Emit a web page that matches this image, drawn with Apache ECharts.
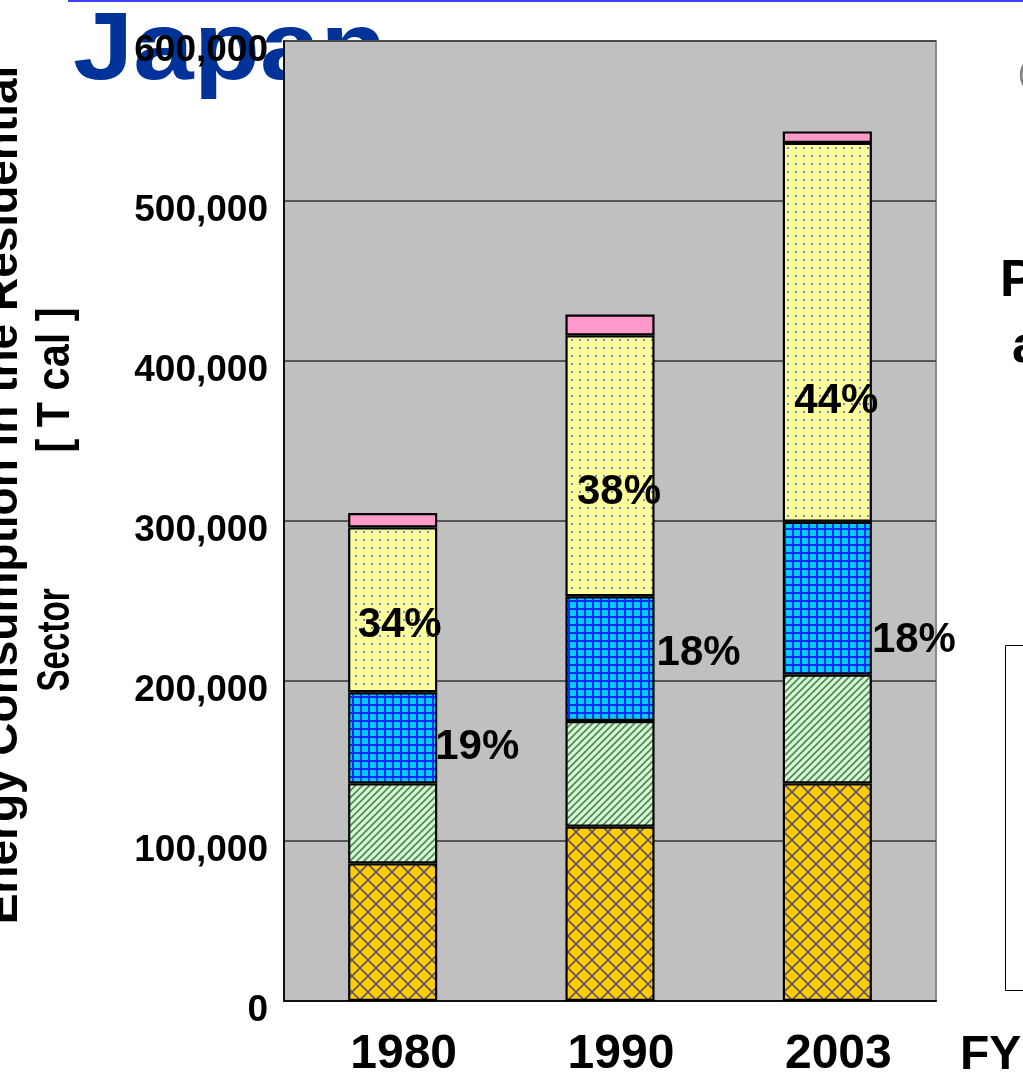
<!DOCTYPE html>
<html>
<head>
<meta charset="utf-8">
<script src="https://cdn.jsdelivr.net/npm/echarts/dist/echarts.min.js"></script>
<style>
  html, body { margin: 0; padding: 0; background: #ffffff; }
  #chart { width: 1023px; height: 1075px; }
</style>
</head>
<body>
<div id="chart"></div>
<script>
// Residential-sector energy consumption, Japan (T cal), stacked by end use
const years = ['1980', '1990', '2003'];
const orangeSeg = [86000, 109000, 136000];
const greenSeg  = [50000, 66000, 68000];
const blueSeg   = [57000, 78000, 95500];
const yellowSeg = [103000, 163000, 236800];
const pinkSeg   = [9000, 13000, 7200];
const yTicks = [0, 100000, 200000, 300000, 400000, 500000, 600000];

const totals = years.map((_, i) =>
  orangeSeg[i] + greenSeg[i] + blueSeg[i] + yellowSeg[i] + pinkSeg[i]);

// label nudges for the share labels (pixels)
const yellowLabelShift = [[7, 16], [9, 27], [9, 69]];
const blueLabelShift   = [[-2, 10], [2, -5], [0, 42]];

const SANS = '"Liberation Sans", Arial, sans-serif';

// ---- fill patterns ----
function makePattern(size, bg, draw) {
  const c = document.createElement('canvas');
  c.width = size; c.height = size;
  const g = c.getContext('2d');
  g.fillStyle = bg;
  g.fillRect(0, 0, size, size);
  draw(g, size);
  return { image: c, repeat: 'repeat' };
}
const crossHatch = makePattern(16, '#ffcc00', (g, s) => {
  g.strokeStyle = '#5a5272'; g.lineWidth = 1.6;
  g.beginPath();
  g.moveTo(0, 0); g.lineTo(s, s);
  g.moveTo(s, 0); g.lineTo(0, s);
  g.stroke();
});
const diagStripes = makePattern(7, '#ccffcc', (g, s) => {
  g.strokeStyle = '#5f7a62'; g.lineWidth = 1.6;
  g.beginPath();
  g.moveTo(-1, s + 1); g.lineTo(s + 1, -1);
  g.moveTo(-2, 2); g.lineTo(2, -2);
  g.moveTo(s - 2, s + 2); g.lineTo(s + 2, s - 2);
  g.stroke();
});
const blueGrid = makePattern(8, '#00ccff', (g, s) => {
  g.fillStyle = '#0a2cff';
  g.fillRect(0, 0, s, 2);
  g.fillRect(0, 0, 2, s);
});
const dotFill = makePattern(8, '#ffff99', (g, s) => {
  g.fillStyle = '#6f8ee6';
  g.fillRect(3, 3, 2, 2);
});

const shareFormatter = p => Math.round(p.value / totals[p.dataIndex] * 100) + '%';
const labelFont = { fontFamily: SANS, fontWeight: 'bold', fontSize: 42, color: '#000' };

function segment(name, values, fill, extra) {
  return Object.assign({
    name: name,
    type: 'bar',
    stack: 'total',
    barWidth: '41%',
    data: values,
    itemStyle: { color: fill, borderColor: '#000', borderWidth: 2.2 }
  }, extra || {});
}

const option = {
  animation: false,
  backgroundColor: '#ffffff',
  grid: {
    left: 284, right: 87, top: 41, bottom: 74,
    outerBoundsMode: 'none',
    containLabel: false,
    show: true, backgroundColor: '#c0c0c0',
    borderColor: '#8a8a8a', borderWidth: 2
  },
  xAxis: {
    type: 'category',
    data: years,
    axisLine: { lineStyle: { color: '#111', width: 2 } },
    axisTick: { inside: true, length: 6, lineStyle: { color: '#111', width: 1.5 } },
    axisLabel: {
      margin: 30,
      formatter: v => '{y|' + v + '}',
      rich: { y: { fontFamily: SANS, fontWeight: 'bold', fontSize: 48, color: '#000',
                   padding: [0, 0, 0, 22] } }
    }
  },
  yAxis: {
    type: 'value',
    min: yTicks[0], max: yTicks[yTicks.length - 1], interval: 100000,
    axisLine: { show: true, lineStyle: { color: '#111', width: 2 } },
    axisTick: { show: false },
    splitLine: { lineStyle: { color: '#333', width: 1.5 } },
    axisLabel: {
      margin: 16,
      formatter: v => '{n|' + v.toLocaleString('en-US') + '}',
      rich: { n: { fontFamily: SANS, fontWeight: 'bold', fontSize: 37, color: '#000',
                   padding: [20, 0, 0, 0] } }
    }
  },
  series: [
    segment('orange', orangeSeg, crossHatch),
    segment('green', greenSeg, diagStripes),
    segment('blue', blueSeg.map((v, i) => ({ value: v, label: { offset: blueLabelShift[i] } })), blueGrid, {
      label: Object.assign({ show: true, position: 'right', distance: 0, formatter: shareFormatter }, labelFont)
    }),
    segment('yellow', yellowSeg.map((v, i) => ({ value: v, label: { offset: yellowLabelShift[i] } })), dotFill, {
      label: Object.assign({ show: true, position: 'inside', formatter: shareFormatter }, labelFont)
    }),
    segment('pink', pinkSeg, '#ff99cc')
  ],
  graphic: [
    { type: 'line', z: 5, shape: { x1: 68, y1: 1, x2: 1023, y2: 1 },
      style: { stroke: '#4040ff', lineWidth: 2 } },
    { type: 'text', z: -10, x: 73, y: 53, scaleX: 1.13,
      style: { text: 'Japan', fill: '#003399', font: 'bold 96px ' + SANS,
               textAlign: 'left', textVerticalAlign: 'middle' } },
    { type: 'text', x: 4, y: 495, rotation: Math.PI / 2,
      style: { text: 'Energy Consumption in the Residential', fill: '#000',
               font: 'bold 46px ' + SANS, textAlign: 'center', textVerticalAlign: 'middle' } },
    { type: 'text', x: 56, y: 640, rotation: Math.PI / 2, scaleX: 0.72,
      style: { text: 'Sector', fill: '#000',
               font: 'bold 46px ' + SANS, textAlign: 'center', textVerticalAlign: 'middle' } },
    { type: 'text', x: 56, y: 380, rotation: Math.PI / 2, scaleX: 0.9,
      style: { text: '[ T cal ]', fill: '#000',
               font: 'bold 46px ' + SANS, textAlign: 'center', textVerticalAlign: 'middle' } },
    { type: 'text', x: 960, y: 1056,
      style: { text: 'FY', fill: '#000', font: 'bold 48px ' + SANS,
               textAlign: 'left', textVerticalAlign: 'middle' } },
    { type: 'text', x: 1018, y: 75,
      style: { text: '(', fill: '#808080', font: '30px ' + SANS,
               textAlign: 'left', textVerticalAlign: 'middle' } },
    { type: 'text', x: 1000, y: 282,
      style: { text: 'Percentage', fill: '#000', font: 'bold 52px ' + SANS,
               textAlign: 'left', textVerticalAlign: 'middle' } },
    { type: 'text', x: 1012, y: 348,
      style: { text: 'and', fill: '#000', font: 'bold 52px ' + SANS,
               textAlign: 'left', textVerticalAlign: 'middle' } },
    { type: 'rect', shape: { x: 1005.5, y: 645.5, width: 60, height: 345 },
      style: { fill: '#ffffff', stroke: '#000', lineWidth: 1 } }
  ]
};

const chart = echarts.init(document.getElementById('chart'), null, { renderer: 'canvas' });
chart.setOption(option);
</script>
</body>
</html>
